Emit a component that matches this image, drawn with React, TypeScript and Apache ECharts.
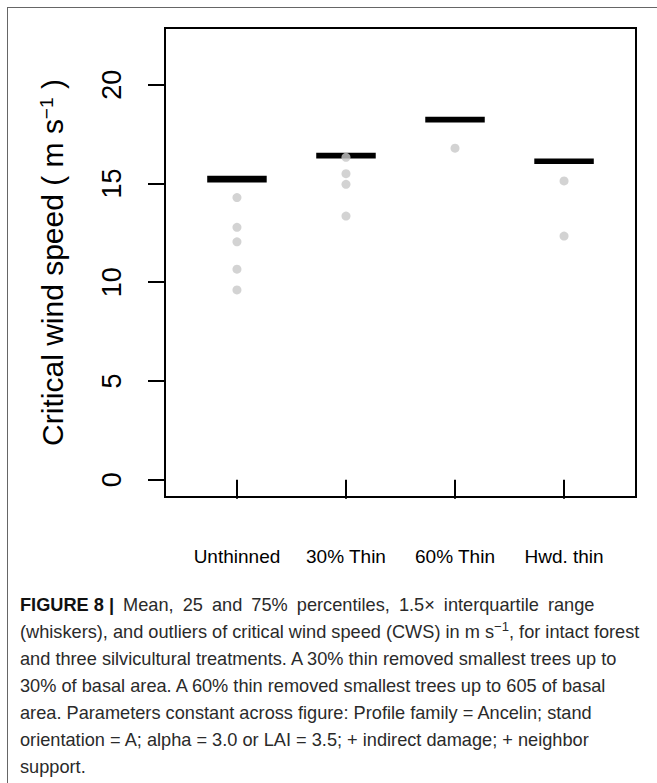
import React, { useEffect, useRef } from 'react';
import * as echarts from 'echarts';

const categories = ['Unthinned', '30% Thin', '60% Thin', 'Hwd. thin'];
const categoryPos = [1, 2, 3, 4];
const boxMin = [15.11, 16.33, 18.16, 16.05];
const boxQ1 = [15.11, 16.33, 18.16, 16.05];
const boxMedian = [15.21, 16.42, 18.25, 16.13];
const boxQ3 = [15.33, 16.5, 18.32, 16.21];
const boxMax = [15.33, 16.5, 18.32, 16.21];
const outliersUnthinned = [14.29, 12.78, 12.05, 10.66, 9.61];
const outliers30Thin = [16.33, 15.5, 14.96, 13.35];
const outliers60Thin = [16.79];
const outliersHwdThin = [15.13, 12.34];
const yTicks = [0, 5, 10, 15, 20];

const FONT = '"Liberation Sans", Arial, Helvetica, sans-serif';

function Chart() {
  const ref = useRef<HTMLDivElement>(null);
  useEffect(() => {
    if (!ref.current) return;
    const chart = echarts.init(ref.current, undefined, { renderer: 'svg' });
    const boxData = categoryPos.map((x, i) => [x, boxMin[i], boxQ1[i], boxMedian[i], boxQ3[i], boxMax[i]]);
    const outlierGroups = [outliersUnthinned, outliers30Thin, outliers60Thin, outliersHwdThin];
    const outlierData: number[][] = [];
    outlierGroups.forEach((g, i) => g.forEach((v) => outlierData.push([categoryPos[i], v])));
    chart.setOption({
      animation: false,
      grid: {
        left: 165,
        top: 28,
        width: 471,
        height: 469,
        show: true,
        borderColor: '#000',
        borderWidth: 2,
        backgroundColor: 'transparent',
      },
      xAxis: {
        type: 'value',
        min: 0.34,
        max: 4.66,
        axisLine: { show: false },
        splitLine: { show: false },
        axisTick: {
          show: true,
          customValues: categoryPos,
          length: 19,
          lineStyle: { color: '#000', width: 2 },
        },
        axisLabel: {
          customValues: categoryPos,
          formatter: (v: number) => categories[Math.round(v) - 1] ?? '',
          fontSize: 19,
          fontFamily: FONT,
          color: '#000',
          margin: 50,
        },
      },
      yAxis: {
        type: 'value',
        min: -0.88,
        max: 22.88,
        axisLine: { show: false },
        splitLine: { show: false },
        axisTick: {
          show: true,
          customValues: yTicks,
          length: 17,
          lineStyle: { color: '#000', width: 2 },
        },
        axisLabel: {
          customValues: yTicks,
          rotate: 90,
          fontSize: 27,
          fontFamily: FONT,
          color: '#000',
          margin: 40,
        },
        name: '{a|Critical wind speed ( m s}{s|−1}{a| )}',
        nameLocation: 'middle',
        nameRotate: 90,
        nameGap: 98,
        nameTextStyle: {
          rich: {
            a: { fontSize: 30, fontFamily: FONT, color: '#000' },
            s: { fontSize: 19, fontFamily: FONT, color: '#000', verticalAlign: 'top' },
          },
        },
      },
      series: [
        {
          type: 'boxplot',
          data: boxData,
          boxWidth: [57, 57],
          itemStyle: { color: '#000', borderColor: '#000', borderWidth: 2.5 },
          z: 2,
        },
        {
          type: 'scatter',
          data: outlierData,
          symbol: 'circle',
          symbolSize: 9,
          itemStyle: { color: '#c8c8c8' },
          z: 3,
        },
      ],
    });
    return () => chart.dispose();
  }, []);
  return <div ref={ref} style={{ position: 'absolute', left: 0, top: 0, width: 657, height: 585 }} />;
}

const captionLines: React.ReactNode[] = [
  <>
    <b style={{ color: '#111' }}>FIGURE 8 |</b>
    <span style={{ wordSpacing: '4px' }}> Mean, 25 and 75% percentiles, 1.5× interquartile range</span>
  </>,
  <>
    (whiskers), and outliers of critical wind speed (CWS) in m s
    <span style={{ verticalAlign: 'super', fontSize: '0.72em', lineHeight: 0 }}>−1</span>, for intact forest
  </>,
  <>and three silvicultural treatments. A 30% thin removed smallest trees up to</>,
  <>30% of basal area. A 60% thin removed smallest trees up to 605 of basal</>,
  <>area. Parameters constant across figure: Profile family = Ancelin; stand</>,
  <>orientation = A; alpha = 3.0 or LAI = 3.5; + indirect damage; + neighbor</>,
  <>support.</>,
];

export default function App() {
  return (
    <div style={{ position: 'fixed', left: 0, top: 0, width: 657, height: 783, overflow: 'hidden', background: '#fff' }}>
      <div
        style={{
          position: 'absolute',
          left: 7,
          top: 7,
          width: 700,
          height: 800,
          borderLeft: '1.5px solid #666',
          borderTop: '1.5px solid #666',
        }}
      />
      <Chart />
      <div
        style={{
          position: 'absolute',
          left: 20,
          top: 592,
          fontFamily: FONT,
          fontSize: 18.2,
          lineHeight: '27px',
          color: '#2a2a2a',
          whiteSpace: 'nowrap',
        }}
      >
        {captionLines.map((l, i) => (
          <div key={i}>{l}</div>
        ))}
      </div>
    </div>
  );
}
